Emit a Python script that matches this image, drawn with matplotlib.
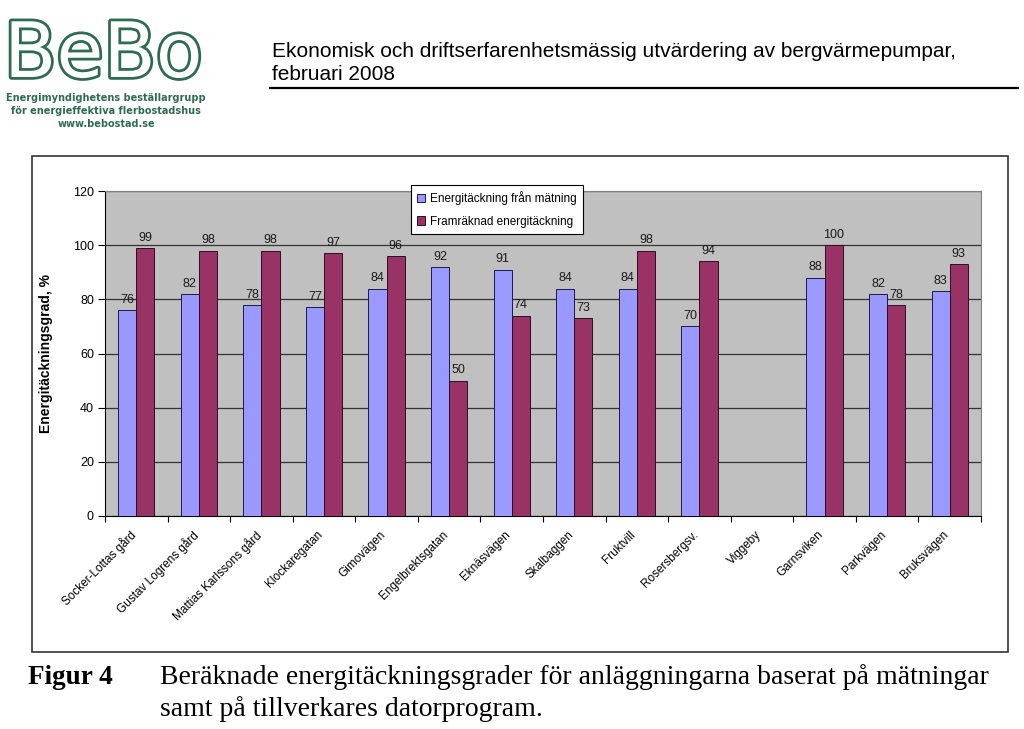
import numpy as np
import matplotlib
matplotlib.use("Agg")
import matplotlib.pyplot as plt
import matplotlib.patheffects as pe
import matplotlib.transforms as mtransforms
from matplotlib.patches import Rectangle
from matplotlib.lines import Line2D

# data
anlaggningar = ["Socker-Lottas gård", "Gustav Logrens gård", "Mattias Karlssons gård",
                "Klockaregatan", "Gimovägen", "Engelbrektsgatan", "Eknäsvägen",
                "Skalbaggen", "Fruktvill", "Rosersbergsv.", "Viggeby", "Garnsviken",
                "Parkvägen", "Bruksvägen"]
matning = [76, 82, 78, 77, 84, 92, 91, 84, 84, 70, np.nan, 88, 82, 83]
framraknad = [99, 98, 98, 97, 96, 50, 74, 73, 98, 94, np.nan, 100, 78, 93]
serie_namn = ["Energitäckning från mätning", "Framräknad energitäckning"]
yticks = [0, 20, 40, 60, 80, 100, 120]

blue = "#9999ff"
red = "#993366"
green = "#2f6b50"

plt.rcParams['font.family'] = ['Liberation Sans', 'DejaVu Sans']

fig = plt.figure(figsize=(10.24, 7.29), dpi=100)
W, H = 1024, 729

def fx(x):
    return x / W

def fy(y):
    return 1 - y / H

# logo
fig.text(fx(4), fy(77), "BeBo", fontsize=55, family="DejaVu Sans", color="white",
         ha="left", va="baseline",
         path_effects=[pe.Stroke(linewidth=4, foreground=green), pe.Normal()])
logo_rader = ["Energimyndighetens beställargrupp", "för energieffektiva flerbostadshus",
              "www.bebostad.se"]
for i, rad in enumerate(logo_rader):
    fig.text(fx(106), fy(98 + i * 13), rad, fontsize=7, family="DejaVu Sans",
             weight="bold", color=green, ha="center", va="center")

# header
fig.text(fx(272), fy(57), "Ekonomisk och driftserfarenhetsmässig utvärdering av bergvärmepumpar,",
         fontsize=15, ha="left", va="baseline")
fig.text(fx(272), fy(80), "februari 2008", fontsize=15, ha="left", va="baseline")
fig.add_artist(Line2D([fx(270), fx(1018)], [fy(88), fy(88)], color="black", lw=1.6))

# chart frame
fig.add_artist(Rectangle((fx(32), fy(652)), fx(1008) - fx(32), fy(156) - fy(652),
                         fill=False, edgecolor="#333333", lw=1.2))

# axes
ax = fig.add_axes([fx(105), fy(516), fx(981) - fx(105), fy(191) - fy(516)])
ax.set_facecolor("#c0c0c0")
x = np.arange(len(anlaggningar))
bw = 0.29
b1 = ax.bar(x - bw / 2, matning, bw, color=blue, edgecolor="#1a1a4a", lw=0.7,
            label=serie_namn[0], zorder=3)
b2 = ax.bar(x + bw / 2, framraknad, bw, color=red, edgecolor="#2a0f1f", lw=0.7,
            label=serie_namn[1], zorder=3)
ax.bar_label(b1, labels=["" if np.isnan(v) else "%d" % v for v in matning],
             padding=3, fontsize=9, color="#1a1a1a")
ax.bar_label(b2, labels=["" if np.isnan(v) else "%d" % v for v in framraknad],
             padding=3, fontsize=9, color="#1a1a1a")

ax.set_xlim(-0.5, len(anlaggningar) - 0.5)
ax.set_ylim(0, 120)
ax.set_yticks(yticks)
ax.tick_params(axis="y", labelsize=9, length=5, direction="out", pad=3)
ax.yaxis.grid(True, color="#333333", lw=0.9, zorder=1)
ax.set_axisbelow(True)

# ticks between categories, labels at centres
ax.set_xticks(np.arange(-0.5, len(anlaggningar), 1.0))
ax.set_xticklabels([])
ax.tick_params(axis="x", which="major", length=4, direction="out")
ax.set_xticks(x, minor=True)
ax.set_xticklabels(anlaggningar, minor=True, rotation=45, ha="right",
                   rotation_mode="anchor", fontsize=8.5)
ax.tick_params(axis="x", which="minor", length=0, pad=9)
skift = mtransforms.ScaledTranslation(-7 / 100, 0, fig.dpi_scale_trans)
for lab in ax.get_xticklabels(minor=True):
    lab.set_transform(lab.get_transform() + skift)

for s in ["top", "right"]:
    ax.spines[s].set_color("#808080")
for s in ["left", "bottom"]:
    ax.spines[s].set_color("black")

ax.set_ylabel("Energitäckningsgrad, %", fontsize=10, weight="bold", labelpad=14)

leg = ax.legend(loc="upper left", bbox_to_anchor=(0.349, 1.02), borderaxespad=0,
                fontsize=8.5, frameon=True, fancybox=False, edgecolor="black",
                framealpha=1, handlelength=0.7, handleheight=0.7, handletextpad=0.4,
                borderpad=0.55, labelspacing=0.9)
leg.get_frame().set_linewidth(0.8)

# caption
serif = "Liberation Serif"
fig.text(fx(28), fy(684), "Figur 4", family=serif, weight="bold",
         fontsize=19.5, ha="left", va="baseline")
fig.text(fx(160), fy(684),
         "Beräknade energitäckningsgrader för anläggningarna baserat på mätningar",
         family=serif, fontsize=20, ha="left", va="baseline")
fig.text(fx(160), fy(716), "samt på tillverkares datorprogram.",
         family=serif, fontsize=20, ha="left", va="baseline")

fig.savefig("out.png", dpi=100)
